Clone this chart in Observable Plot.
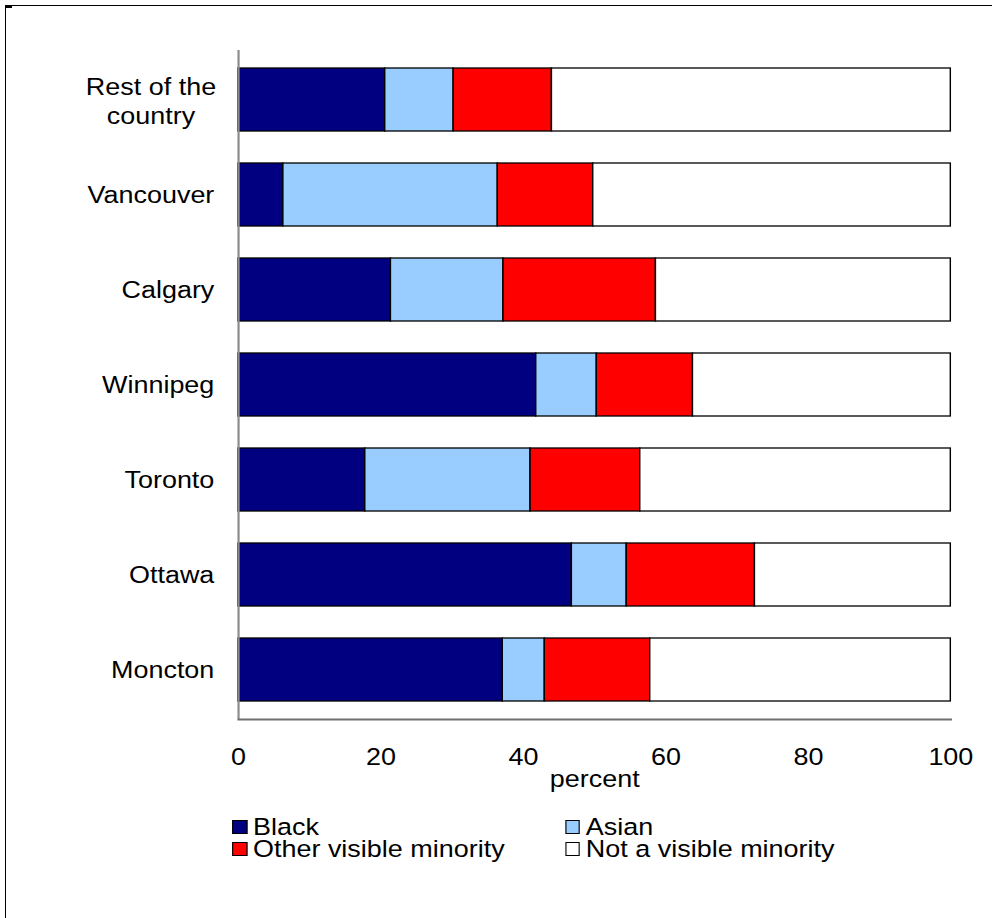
<!DOCTYPE html>
<html>
<head>
<meta charset="utf-8">
<script src="https://cdn.jsdelivr.net/npm/d3@7"></script>
<script src="https://cdn.jsdelivr.net/npm/@observablehq/plot@0.6"></script>
<style>
  html, body { margin: 0; padding: 0; background: #fff; }
  body { width: 992px; height: 918px; position: relative; overflow: hidden;
         font-family: "Liberation Sans", Arial, sans-serif; color: #000; }
  #chart { position: absolute; left: 0; top: 0; z-index: 1; }
  #legend { position: absolute; left: 0; top: 816px; width: 902px; height: 44px; z-index: 1;
            transform: scaleX(1.1); transform-origin: 0 0; font-size: 24.5px; }
  #frame { position: absolute; left: 5px; top: 5px; right: 0; bottom: 0; z-index: 2; pointer-events: none;
           border-top: 1.5px solid #000; border-left: 1.5px solid #000; }
  #corner { position: absolute; left: 5px; top: 5px; width: 7px; height: 3px; background: #000; z-index: 2; }
  .item { position: absolute; display: flex; align-items: center; height: 22px; line-height: 22px; white-space: nowrap; }
  .swatch { width: 11.5px; height: 12px; border: 1px solid #000; margin-right: 5.5px; flex: none; }
</style>
</head>
<body>
<div id="chart"></div>
<div id="legend"></div>
<div id="frame"></div>
<div id="corner"></div>
<script>
// Share of each population group by city (percent)
const cities = ["Rest of the country", "Vancouver", "Calgary", "Winnipeg", "Toronto", "Ottawa", "Moncton"];
const groups = ["Black", "Asian", "Other visible minority", "Not a visible minority"];
const black      = [20.6,  6.3, 21.4, 41.8, 17.8, 46.8, 37.1];
const asian      = [ 9.6, 30.1, 15.8,  8.5, 23.2,  7.7,  5.9];
const other      = [13.8, 13.4, 21.4, 13.5, 15.4, 18.0, 14.8];
const notVisible = [56.0, 50.2, 41.4, 36.2, 43.6, 27.5, 42.2];
const colors = ["#000080", "#99ccff", "#ff0000", "#ffffff"];
const xTicks = [0, 20, 40, 60, 80, 100];
const xLabel = "percent";

const series = [black, asian, other, notVisible];
const rows = cities.flatMap((city, i) =>
  groups.map((group, g) => ({city, group, value: series[g][i]}))
);

const multiLine = cities.filter(c => c === "Rest of the country");
const singleLine = cities.filter(c => c !== "Rest of the country");

// Drawn in a 902-wide coordinate space, displayed stretched to 992px wide
const W = 902, H = 800;
const chart = Plot.plot({
  width: W,
  height: H,
  marginLeft: 216.4,
  marginRight: 37.9,
  marginTop: 50,
  marginBottom: 81,
  style: {fontFamily: "'Liberation Sans', Arial, sans-serif", fontSize: "24.5px", color: "#000", background: "transparent", overflow: "visible"},
  x: {domain: [0, 100]},
  y: {domain: cities, paddingInner: 0.34, paddingOuter: 0.17},
  color: {domain: groups, range: colors},
  marks: [
    Plot.barX(rows, Plot.stackX({y: "city", x: "value", fill: "group", order: groups, stroke: "#000", strokeWidth: 1.3})),
    Plot.ruleX([0], {stroke: "#8c8c8c", strokeWidth: 2}),
    Plot.frame({anchor: "bottom", stroke: "#6e6e6e", strokeWidth: 2}),
    Plot.axisX({ticks: xTicks, tickSize: 0, tickPadding: 28, label: null, fontSize: 24.5}),
    Plot.axisY({ticks: singleLine, tickSize: 0, tickPadding: 22, label: null, fontSize: 24.5}),
    Plot.axisY({ticks: multiLine, tickSize: 0, tickPadding: 79.6, textAnchor: "middle", label: null,
                fontSize: 24.5, lineHeight: 1.2, tickFormat: () => "Rest of the\ncountry"}),
    Plot.text([xLabel], {x: 50, text: d => d, frameAnchor: "bottom", lineAnchor: "top", dy: 50, fontSize: 24.5})
  ]
});
chart.setAttribute("preserveAspectRatio", "none");
chart.setAttribute("viewBox", `0 0 ${W} ${H}`);
chart.style.width = "992px";
chart.style.height = H + "px";
chart.style.maxWidth = "none";
document.getElementById("chart").appendChild(chart);

// Legend: two columns, two rows
const legend = document.getElementById("legend");
const colLeft = [211, 513.6];
groups.forEach((g, i) => {
  const item = document.createElement("div");
  item.className = "item";
  item.style.left = colLeft[i % 2] + "px";
  item.style.top = (Math.floor(i / 2) * 22) + "px";
  const sw = document.createElement("span");
  sw.className = "swatch";
  sw.style.background = colors[i];
  const label = document.createElement("span");
  label.textContent = g;
  item.appendChild(sw);
  item.appendChild(label);
  legend.appendChild(item);
});
</script>
</body>
</html>
